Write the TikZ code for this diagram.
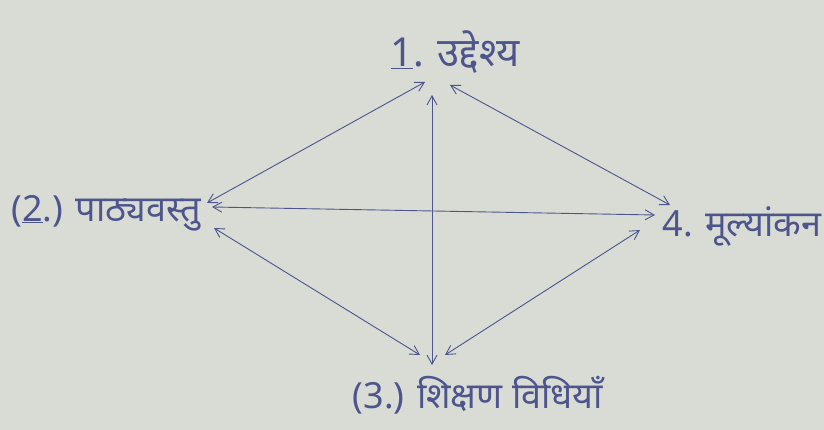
\documentclass[tikz,border=0pt]{standalone}
\usepackage{fontspec}
\newfontfamily\hindi[Script=Devanagari]{Noto Sans}
\usetikzlibrary{arrows.meta,positioning,calc}
\definecolor{ink}{RGB}{78,84,140}
\definecolor{paper}{RGB}{216,220,212}

\begin{document}
\begin{tikzpicture}[x=1pt, y=-1pt,
    lbl/.style={text=ink, inner sep=0pt, font=\hindi\fontsize{36}{40}\selectfont},
    link/.style={draw=ink, line width=0.9pt, {Straight Barb[length=9pt,width=10pt]}-{Straight Barb[length=9pt,width=10pt]}}]
  % paper
  \fill[paper] (0,0) rectangle (824,430);
  % the four parts
  \node[lbl, font=\hindi\fontsize{40}{44}\selectfont] (obj) at (455,52) {\underline{1}. उद्देश्य};
  \node[lbl] (cont) at (106,213) {(\underline{2}.) पाठ्यवस्तु};
  \node[lbl] (meth) at (478,395) {(3.) शिक्षण विधियाँ};
  \node[lbl] (eval) at (742,226) {4. मूल्यांकन};
  % arrow ends
  \coordinate (objL) at (425,82);
  \coordinate (objM) at (432,95);
  \coordinate (objR) at (450,85);
  \coordinate (contT) at (207,203);
  \coordinate (contM) at (212,207);
  \coordinate (contB) at (214,228);
  \coordinate (methL) at (420,355);
  \coordinate (methM) at (432,365);
  \coordinate (methR) at (445,355);
  \coordinate (evalT) at (670,205);
  \coordinate (evalM) at (655,215);
  \coordinate (evalB) at (640,230);
  % links
  \draw[link] (objL) -- (contT);
  \draw[link] (objR) -- (evalT);
  \draw[link] (objM) -- (methM);
  \draw[link] (contM) -- (evalM);
  \draw[link] (contB) -- (methL);
  \draw[link] (methR) -- (evalB);
\end{tikzpicture}
\end{document}
